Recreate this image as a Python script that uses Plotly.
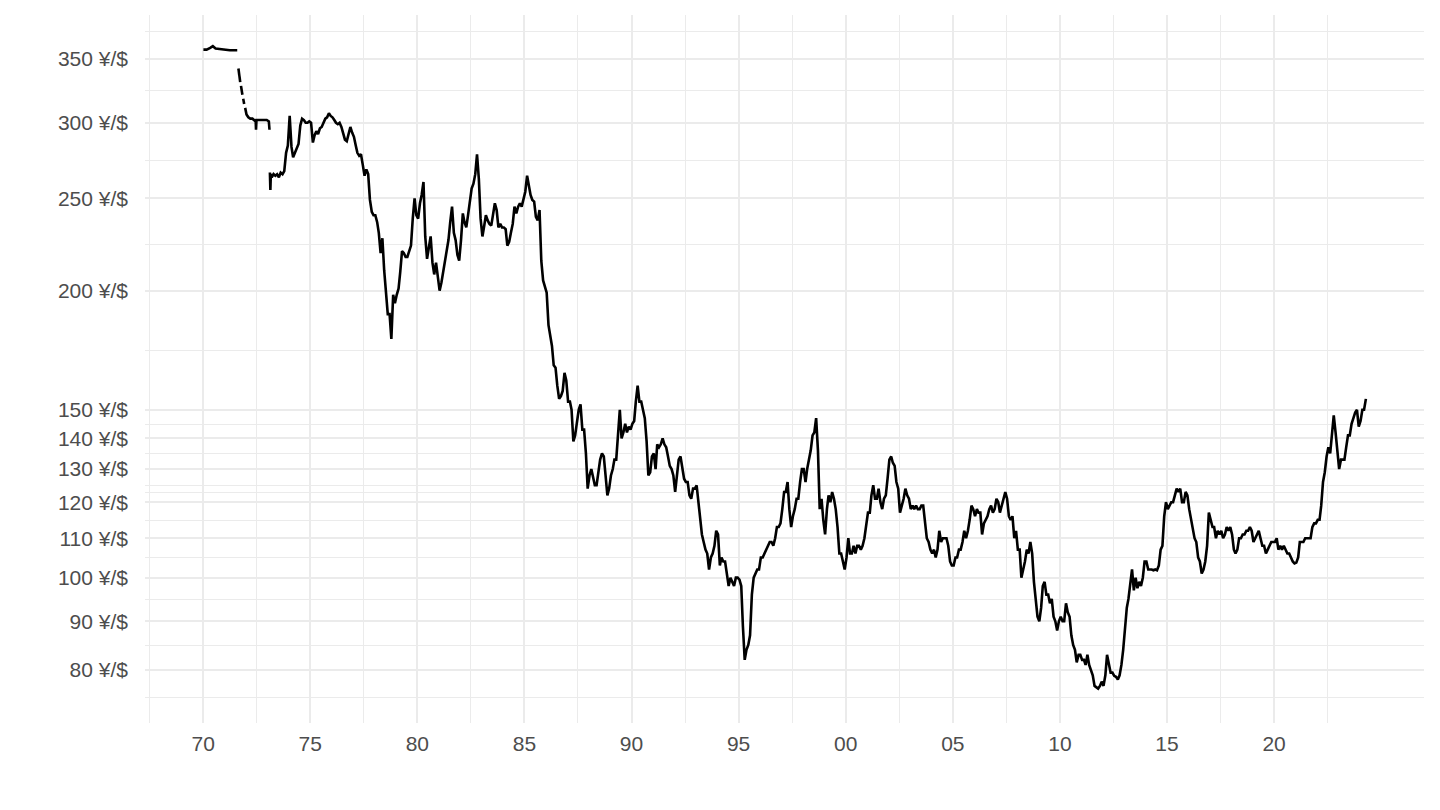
import numpy as np
import pandas as pd
import plotly.graph_objects as go

# --- data: USD/JPY (yen per dollar) ---

# Bretton Woods end / Smithsonian period, with the gaps in the source series
early_dates = [
    "1970-01-05", "1970-03-01", "1970-05-01", "1970-06-15", "1970-08-01", "1970-10-01",
    "1970-12-01", "1971-02-01", "1971-04-01", "1971-06-01", "1971-08-05", "1971-08-15",
    "1971-08-25", "1971-09-10", "1971-09-25", "1971-10-02", "1971-10-08", "1971-11-01",
    "1971-11-08", "1971-11-15", "1971-12-01", "1971-12-10", "1971-12-18", "1972-01-10",
    "1972-02-10", "1972-03-15", "1972-04-20", "1972-05-25", "1972-06-15", "1972-06-20",
    "1972-06-28", "1972-08-15", "1972-10-01", "1972-11-15", "1972-12-20", "1973-01-25",
    "1973-02-05", "1973-02-08", "1973-02-12", "1973-02-20", "1973-02-28",
]
early_vals = [
    358, 358, 359.5, 361, 359, 358.5,
    358, 357.8, 357.5, 357.5, 357.5, None,
    342, 336, 331, None, 328, 321,
    None, 318, 314, None, 311, 306,
    304, 303, 303, 302, 301, 295,
    302, 302, 302, 302, 302, 301,
    295, None, 266, 255, 265,
]

# monthly values from March 1973
rate_1970s = [
    263, 265, 264, 265, 263, 266, 265, 267, 279, 284,                # 1973 Mar-Dec
    305, 283, 276, 279, 282, 285, 298, 303, 302, 300, 300, 301,      # 1974
    300, 286, 291, 294, 292, 296, 297, 300, 303, 304, 307, 305,      # 1975
    304, 302, 300, 299, 300, 297, 292, 288, 287, 292, 297, 293,      # 1976
    290, 284, 279, 277, 278, 271, 264, 268, 265, 249, 242, 240,      # 1977
    240, 236, 230, 219, 227, 210, 201, 189, 189, 178, 198, 194,      # 1978
    198, 201, 209, 220, 219, 217, 217, 220, 223, 238, 250, 240,      # 1979
]
rate_1980s = [
    238, 247, 252, 260, 228, 216, 222, 228, 214, 208, 214, 206,      # 1980
    200, 204, 209, 214, 221, 226, 236, 245, 230, 226, 218, 215,      # 1981
    226, 241, 236, 233, 240, 249, 256, 259, 265, 278, 262, 238,      # 1982
    228, 234, 240, 237, 235, 234, 241, 247, 243, 233, 235, 233,      # 1983
    233, 232, 223, 225, 230, 235, 245, 241, 245, 247, 245, 249,      # 1984
    254, 264, 258, 252, 249, 248, 239, 237, 243, 215, 205, 202,      # 1985
    199, 184, 180, 175, 167, 166, 159, 154, 155, 157, 164, 161,      # 1986
    153, 153, 150, 139, 141, 145, 150, 152, 143, 143, 135, 124,      # 1987
    128, 130, 127, 125, 125, 130, 133, 135, 134, 128, 122, 124,      # 1988
    128, 130, 133, 133, 141, 150, 140, 142, 145, 142, 144, 143,      # 1989
]
rate_1990s = [
    145, 146, 153, 159, 153, 153, 150, 147, 139, 128, 129, 134,      # 1990
    135, 130, 138, 137, 138, 140, 138, 137, 134, 131, 130, 128,      # 1991
    123, 128, 133, 134, 131, 127, 126, 126, 122, 121, 124, 124,      # 1992
    125, 120, 115, 111, 109, 107, 106, 102, 105, 106, 108, 112,      # 1993
    111, 103, 105, 104, 104, 101, 98, 100, 99, 98, 100, 100,         # 1994
    99.5, 98, 89, 82, 84, 85, 87, 96, 100, 101, 102, 102,            # 1995
    105, 105, 106, 107, 108, 109, 109, 108, 110, 113, 113, 114,      # 1996
    118, 123, 123, 126, 118, 113, 116, 118, 121, 121, 126, 130,      # 1997
    130, 126, 130, 133, 136, 141, 142, 147, 136, 118, 121, 115,      # 1998
    111, 118, 122, 120, 123, 121, 118, 113, 106, 106, 104, 102,      # 1999
]
rate_2000s = [
    105, 110, 106, 106, 108, 106, 108, 108, 107, 108, 110, 113,      # 2000
    117, 117, 122, 125, 121, 121, 124, 120, 118, 121, 122, 127,      # 2001
    133, 134, 132, 131, 126, 124, 117, 119, 121, 124, 122, 121,      # 2002
    118, 119, 118, 119, 118, 118, 119, 119, 114, 110, 109, 107,      # 2003
    106, 107, 105, 107, 112, 109, 110, 110, 110, 108, 104, 103,      # 2004
    103, 105, 105, 107, 107, 109, 112, 110, 112, 115, 119, 118,      # 2005
    116, 118, 117, 117, 111, 114, 115, 116, 118, 119, 117, 118,      # 2006
    121, 120, 117, 119, 121, 123, 121, 116, 115, 116, 110, 112,      # 2007
    107, 107, 100, 102, 104, 107, 106, 109, 106, 99, 95, 91,         # 2008
    90, 93, 98, 99, 96, 96, 94, 95, 91, 90, 88, 90,                  # 2009
]
rate_2010s = [
    91, 90, 90, 94, 92, 91, 87, 85, 84, 81.5, 83, 83,                # 2010
    82, 82, 81, 83, 81, 80, 79, 77, 76.8, 76.5, 77, 77.8,            # 2011
    77, 79, 83, 81, 79.5, 79.5, 78.9, 78.7, 78.2, 79, 81, 84,        # 2012
    89, 93, 95, 98, 102, 97, 100, 97.5, 99, 98, 100, 104,            # 2013
    104, 102, 102, 102, 101.8, 102, 101.8, 103, 107, 108, 116, 120,  # 2014
    118, 119, 120, 120, 122, 124, 123, 124, 120, 120, 123, 122,      # 2015
    118, 115, 113, 110, 109, 105, 104, 101, 102, 104, 108, 117,      # 2016
    115, 113, 113, 110, 112, 111, 112, 110, 111, 113, 112, 113,      # 2017
    111, 107, 106, 107, 110, 110, 111, 111, 112, 112, 113, 112,      # 2018
    109, 110, 111, 112, 110, 108, 108, 106, 107, 108, 109, 109,      # 2019
]
rate_2020s = [
    109, 110, 107, 108, 107, 108, 107, 106, 106, 105, 104, 103.5,    # 2020
    103.7, 105, 109, 109, 109, 110, 110, 110, 110, 113, 114, 114,    # 2021
    115, 115, 119, 126, 129, 134, 137, 135, 143, 148, 142, 135,      # 2022
    130, 133, 133, 133, 137, 141, 141, 145, 147, 149, 150, 144,      # 2023
    146, 150, 150, 154,                                              # 2024 Jan-Apr
]

y_breaks = [80, 90, 100, 110, 120, 130, 140, 150, 200, 250, 300, 350]
y_minor = [74.8, 84.9, 94.9, 104.9, 114.9, 122.7, 124.9, 134.9, 144.9,
           173.2, 223.6, 273.9, 324.0, 374.2]
x_years = list(range(1970, 2021, 5))

monthly_vals = rate_1970s + rate_1980s + rate_1990s + rate_2000s + rate_2010s + rate_2020s
monthly_dates = pd.date_range("1973-03-01", periods=len(monthly_vals), freq="MS") + pd.Timedelta(days=14)

dates = list(pd.to_datetime(early_dates)) + list(monthly_dates)
vals = early_vals + monthly_vals

fig = go.Figure()
fig.add_trace(go.Scatter(
    x=dates, y=vals, mode="lines",
    line=dict(color="black", width=2.6),
    connectgaps=False, showlegend=False,
))

grid = "#EBEBEB"
font = dict(family="Liberation Sans, Arial, sans-serif", size=21, color="#4D4D4D")

fig.update_xaxes(
    range=["1967-04-15", "2027-01-01"],
    tickmode="array",
    tickvals=[f"{y}-01-01" for y in x_years],
    ticktext=[str(y)[2:] for y in x_years],
    showgrid=True, gridcolor=grid, gridwidth=2.4,
    minor=dict(tickmode="array",
               tickvals=[f"{y}-07-02" for y in range(1967, 2023, 5)],
               showgrid=True, gridcolor=grid, gridwidth=1.2),
    zeroline=False, showline=False, ticks="",
    tickfont=font, ticklabelstandoff=6,
)
fig.update_yaxes(
    type="log",
    range=[np.log10(70.4), np.log10(389.2)],
    tickmode="array",
    tickvals=y_breaks,
    ticktext=[f"{v} ¥/$" for v in y_breaks],
    showgrid=True, gridcolor=grid, gridwidth=2.4,
    minor=dict(tickmode="array", tickvals=y_minor,
               showgrid=True, gridcolor=grid, gridwidth=1.2),
    zeroline=False, showline=False, ticks="",
    tickfont=font, ticklabelstandoff=16,
)

fig.update_layout(
    width=1440, height=810,
    margin=dict(l=145, r=16, t=15, b=87),
    plot_bgcolor="white", paper_bgcolor="white",
)

fig.write_html("out.html", config={"displayModeBar": False},
               post_script="document.body.style.margin='0';")
